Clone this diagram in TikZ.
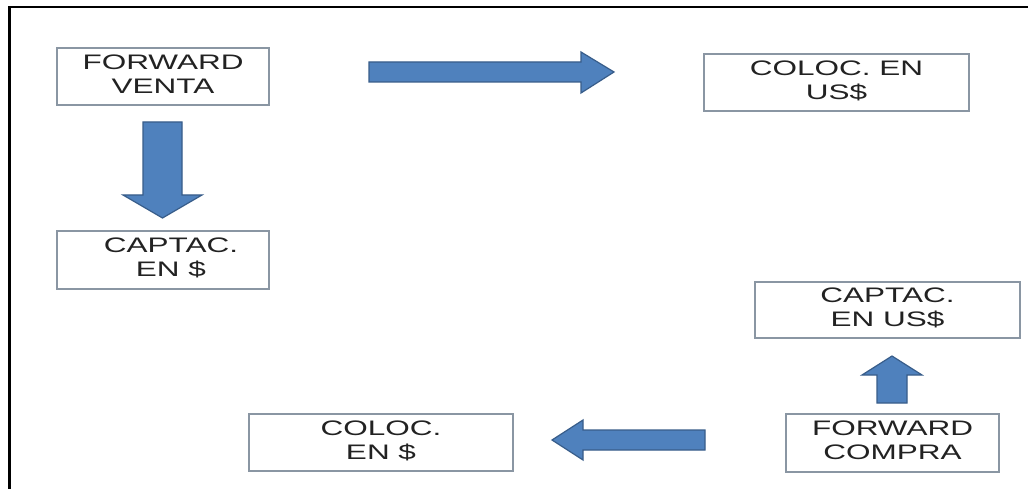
\documentclass[tikz,border=0pt]{standalone}
\usepackage{fontspec}
\usepackage{graphicx}
\setmainfont{Liberation Sans}
\definecolor{arrfill}{HTML}{4F81BD}
\definecolor{arrline}{HTML}{385D8A}
\definecolor{boxline}{HTML}{8A96A3}
\definecolor{txt}{HTML}{222222}
\newcommand{\wtxt}[1]{\scalebox{1.5}[1]{\begin{tabular}{@{}c@{}}#1\end{tabular}}}
\begin{document}
\begin{tikzpicture}[x=1pt,y=-1pt,
  box/.style={draw=boxline, line width=1.2pt, fill=white, inner sep=0pt, align=center,
    text=txt, font=\fontsize{21}{24}\selectfont},
  blockarrow/.style={fill=arrfill, draw=arrline, line width=1.2pt, line join=miter}]
\useasboundingbox (0,0) rectangle (1028,489);
\fill[white] (0,0) rectangle (1028,489);
% frame lines
\draw[line width=2.8pt] (9.5,489) -- (9.5,7) -- (1028,7);
% nodes
\node[box, minimum width=212pt, minimum height=57pt] (fv) at (163,76.5) {\wtxt{FORWARD\\VENTA}};
\node[box, minimum width=212pt, minimum height=58pt] (cs) at (163,260) {\hspace*{16pt}\wtxt{CAPTAC.\\ EN \$}};
\node[box, minimum width=265pt, minimum height=57pt] (cu) at (836.5,82.5) {\wtxt{COLOC. EN\\US\$}};
\node[box, minimum width=265pt, minimum height=56pt] (ku) at (887.5,310) {\wtxt{CAPTAC.\\EN US\$}};
\node[box, minimum width=213pt, minimum height=58pt] (fc) at (892.5,443) {\wtxt{FORWARD\\COMPRA}};
\node[box, minimum width=264pt, minimum height=57pt] (cd) at (381,442.5) {\wtxt{COLOC.\\EN \$}};
% block arrows
\draw[blockarrow] (143,122) -- (182,122) -- (182,195) -- (202,195) -- (162.5,218) -- (123,195) -- (143,195) -- cycle;
\draw[blockarrow] (369,62) -- (581,62) -- (581,52) -- (614,72) -- (581,93) -- (581,82) -- (369,82) -- cycle;
\draw[blockarrow] (877,403) -- (907,403) -- (907,375) -- (922,375) -- (892,356) -- (862,375) -- (877,375) -- cycle;
\draw[blockarrow] (705,430) -- (583,430) -- (583,420) -- (552,440) -- (583,460) -- (583,450) -- (705,450) -- cycle;
\end{tikzpicture}
\end{document}
